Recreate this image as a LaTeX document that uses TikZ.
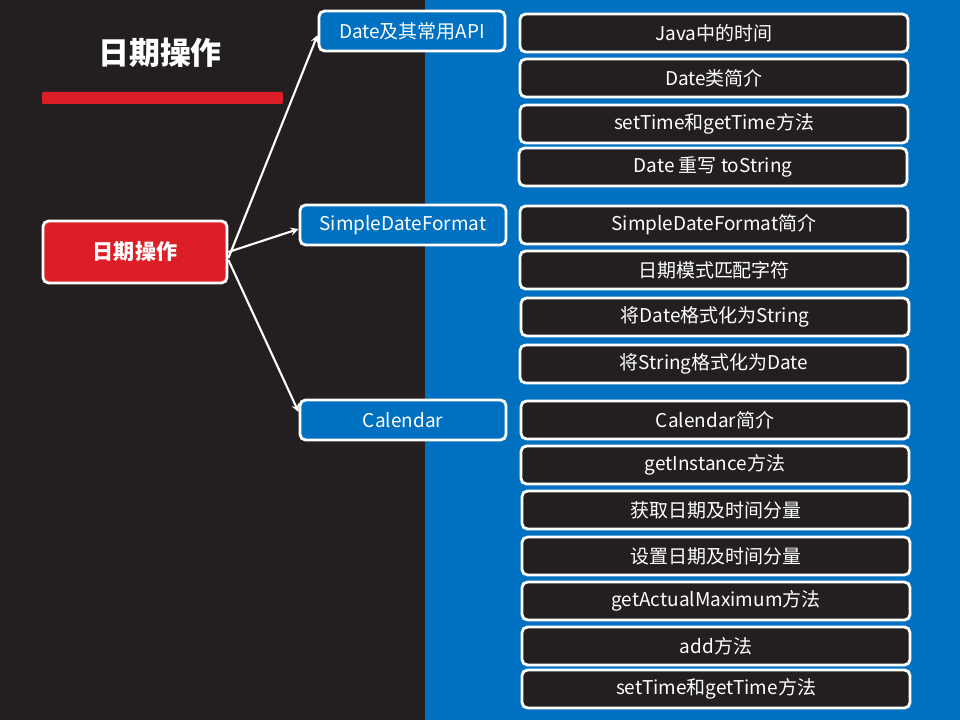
\documentclass[tikz,border=0pt]{standalone}
\usepackage{fontspec}
\setmainfont{Noto Sans CJK SC}
\definecolor{darkbg}{HTML}{231F20}
\definecolor{bluebg}{HTML}{0070C0}
\definecolor{redbox}{HTML}{DC1F26}

\begin{document}
\begin{tikzpicture}[x=0.025cm, y=-0.025cm,
    box/.style={draw=white, line width=2pt, rounded corners=4pt, text=white,
      font=\fontsize{13.5}{16}\selectfont, inner sep=0pt},
    topic/.style={box, fill=bluebg, minimum height=1cm},
    item/.style={box, fill=darkbg, minimum width=9.7cm, minimum height=0.95cm},
    link/.style={white, line width=1.5pt, -stealth}]
    \useasboundingbox (0, 0) rectangle (960, 720);
    \fill[darkbg] (0, 0) rectangle (425, 720);
    \fill[bluebg] (425, 0) rectangle (960, 720);

    \node[text=white, font=\fontsize{22}{26}\selectfont\bfseries] (title) at (160, 53) {日期操作};
    \fill[redbox, rounded corners=1pt] (42, 92) rectangle (283, 104);

    \node[box, fill=redbox, minimum width=4.6cm, minimum height=1.55cm,
      font=\fontsize{15}{18}\selectfont\bfseries] (root) at (135, 252) {日期操作};

    \node[topic, minimum width=4.65cm] (date) at (412, 31) {Date及其常用API};
    \node[topic, minimum width=5.15cm] (sdf) at (403, 225) {SimpleDateFormat};
    \node[topic, minimum width=5.15cm] (cal) at (403, 420) {Calendar};

    \node[item] (d1) at (714, 33) {Java中的时间};
    \node[item] (d2) at (714, 78) {Date类简介};
    \node[item] (d3) at (714, 124) {setTime和getTime方法};
    \node[item] (d4) at (713, 167) {Date 重写 toString};

    \node[item] (s1) at (714, 225) {SimpleDateFormat简介};
    \node[item] (s2) at (714, 270) {日期模式匹配字符};
    \node[item] (s3) at (715, 317) {将Date格式化为String};
    \node[item] (s4) at (714, 364) {将String格式化为Date};

    \node[item] (c1) at (715, 420) {Calendar简介};
    \node[item] (c2) at (715, 465) {getInstance方法};
    \node[item] (c3) at (716, 510) {获取日期及时间分量};
    \node[item] (c4) at (716, 556) {设置日期及时间分量};
    \node[item] (c5) at (716, 601) {getActualMaximum方法};
    \node[item] (c6) at (716, 646) {add方法};
    \node[item] (c7) at (716, 689) {setTime和getTime方法};

    \draw[link] ([yshift=-0.15cm]root.east) -- ([yshift=-0.1cm]date.west);
    \draw[link] (root.east) -- ([yshift=-0.1cm]sdf.west);
    \draw[link] ([yshift=-0.2cm]root.east) -- ([yshift=0.2cm]cal.west);
\end{tikzpicture}
\end{document}
